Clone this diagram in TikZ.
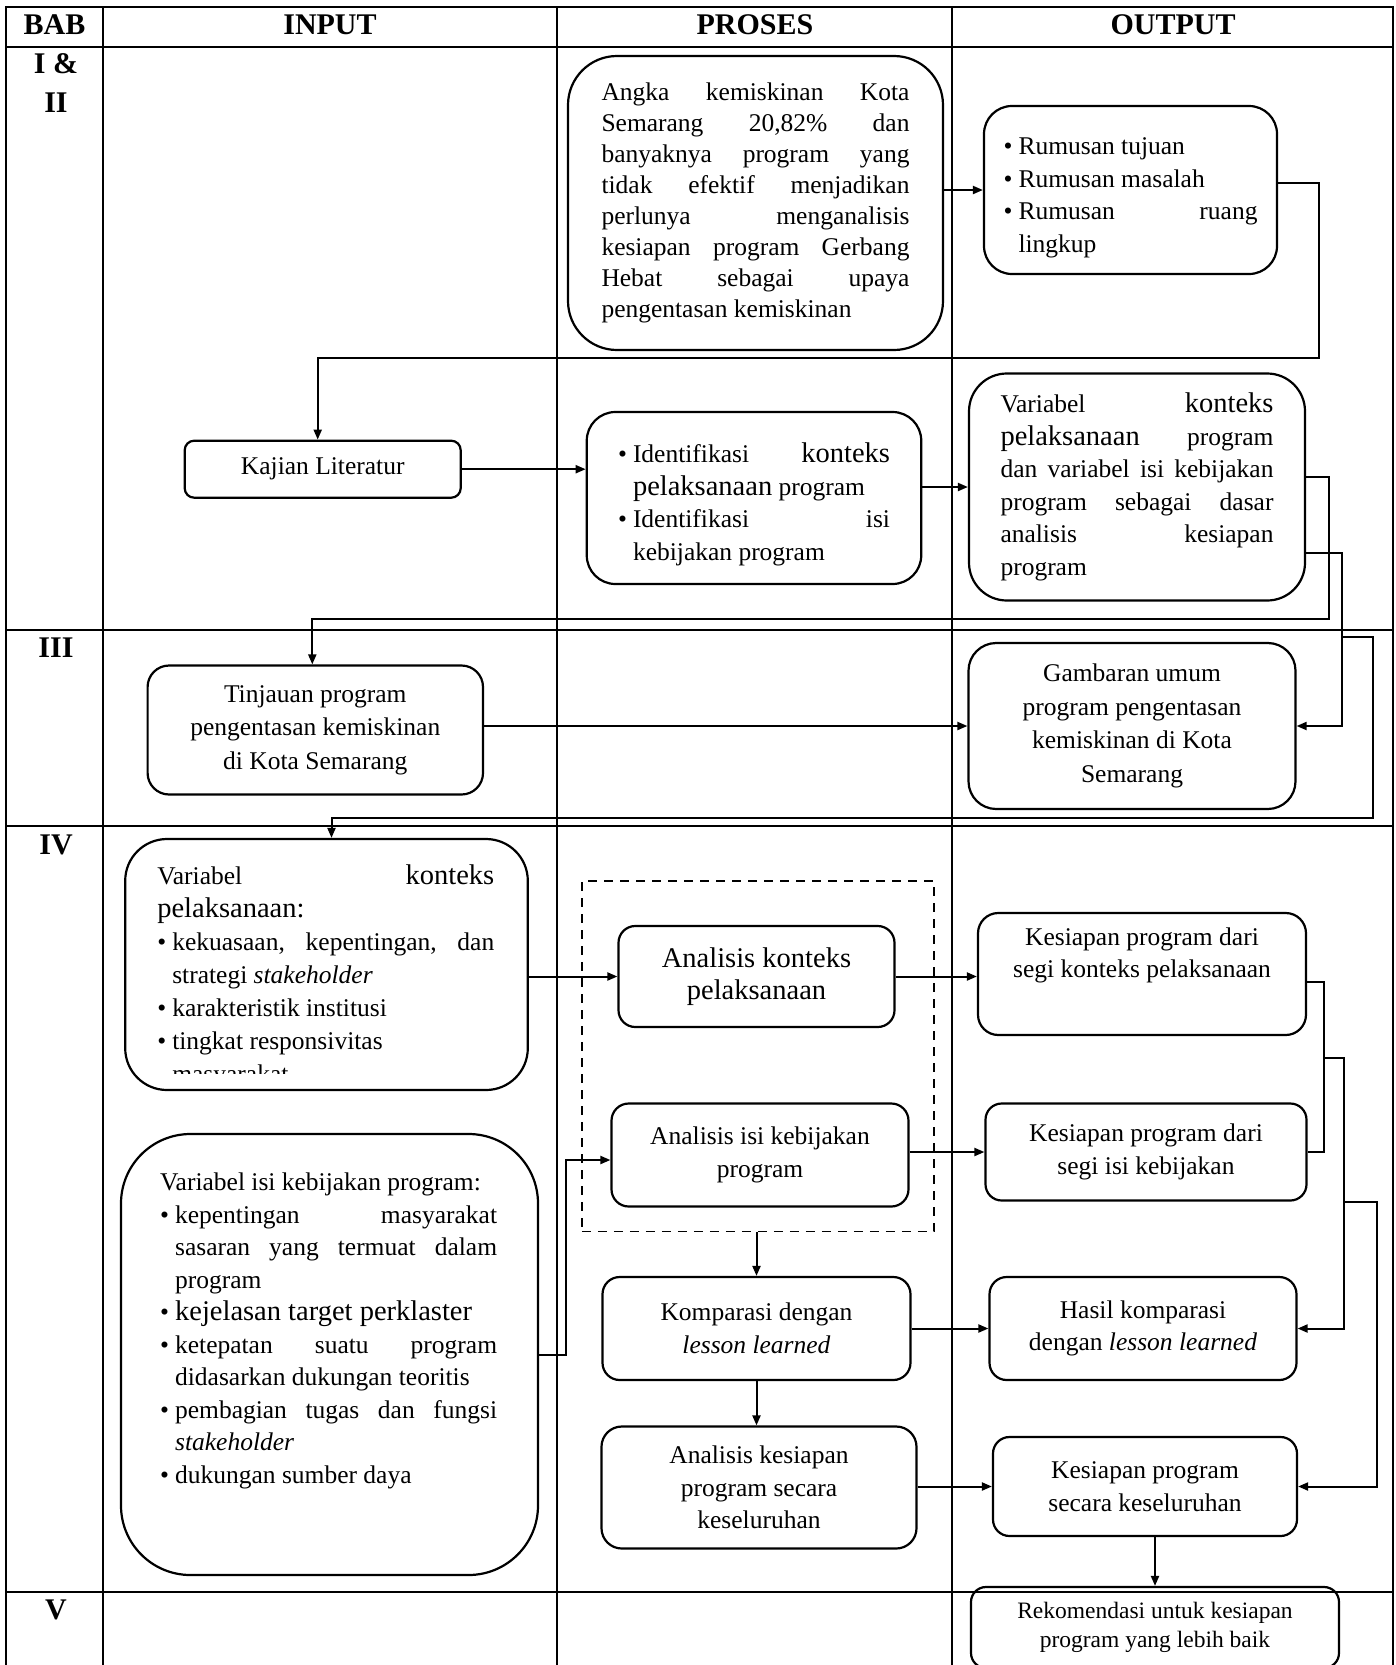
\documentclass[tikz,border=0pt]{standalone}
\usepackage{fontspec}
\setmainfont{Liberation Serif}
\usetikzlibrary{arrows.meta,calc,positioning}

\tolerance=10000
\hbadness=10000
\hfuzz=3pt

\newcommand{\body}{\fontsize{25.5}{32.5}\selectfont}
\newcommand{\bg}{\fontsize{28.5}{32.5}\selectfont}
\newcommand{\bul}{\par\hangindent=15pt\hangafter=1\noindent\makebox[15pt][l]{\textbullet}}

\begin{document}
\begin{tikzpicture}[x=1pt,y=-1pt,
  tl/.style={line width=2pt},
  tlthin/.style={line width=1.2pt},
  hd/.style={font=\fontsize{30}{39}\selectfont\bfseries,align=center,inner sep=0pt},
  box/.style={draw,fill=white,line width=2.2pt,align=center,font=\body,inner sep=4pt},
  txt/.style={align=justify,font=\body,inner sep=0pt},
  grpbox/.style={draw,line width=1.4pt,dash pattern=on 9pt off 7pt},
  ln/.style={line width=2pt},
  f/.style={-{Triangle[length=10pt,width=8pt]},line width=2pt}]
\path[use as bounding box,fill=white] (0,0) rectangle (1396,1665);

% table
\draw[tl] (6,1680) -- (6,7) -- (1393,7) -- (1393,1680);
\foreach \yy in {46.7,629.5,826,1592.4}
  \draw[tl] (6,\yy) -- (1393,\yy);
\foreach \xx in {103,557}
  \draw[tl] (\xx,7) -- (\xx,1680);
\draw[tlthin] (952,7) -- (952,1680);

\node[hd] (hbab) at (54.5,25) {BAB};
\node[hd] (hinput) at (330,25) {INPUT};
\node[hd] (hproses) at (755,25) {PROSES};
\node[hd] (houtput) at (1173,25) {OUTPUT};
\node[hd] (rI) at (56,83.4) {I \&\\II};
\node[hd] (rIII) at (56,648) {III};
\node[hd] (rIV) at (56,845) {IV};
\node[hd] (rV) at (56,1610) {V};

% bab I & II
\node[box,rounded corners=49pt,minimum width=375pt,minimum height=294pt,
  align=justify,text width=308pt,font=\fontsize{25.5}{31}\selectfont] (angka) at (755.5,203)
  {Angka kemiskinan Kota\linebreak Semarang 20,82\% dan\linebreak banyaknya program yang\linebreak tidak efektif menjadikan\linebreak perlunya menganalisis\linebreak kesiapan program Gerbang\linebreak Hebat sebagai upaya\linebreak pengentasan kemiskinan};
\node[box,rounded corners=28pt,minimum width=293pt,minimum height=168pt,
  align=justify,text width=254pt] (rumusan) at (1130.5,190)
  {\bul Rumusan tujuan\bul Rumusan masalah\bul Rumusan ruang\linebreak lingkup\par};
\node[box,rounded corners=9.5pt,minimum width=276pt,minimum height=57pt] (kajian) at (322.7,469.2) {Kajian Literatur};
\node[box,rounded corners=28.7pt,minimum width=334.5pt,minimum height=172pt,
  align=justify,text width=272pt] (ident) at (754,498)
  {\bul Identifikasi {\bg konteks}\linebreak {\bg pelaksanaan} program\bul Identifikasi isi\linebreak kebijakan program\par};
\node[box,rounded corners=37.8pt,minimum width=336pt,minimum height=227pt,
  align=justify,text width=273pt] (ctxdesc) at (1137,487)
  {Variabel {\bg konteks}\linebreak {\bg pelaksanaan} program\linebreak dan variabel isi kebijakan\linebreak program sebagai dasar\linebreak analisis kesiapan\linebreak program};

% bab III
\node[box,rounded corners=21.5pt,minimum width=335.4pt,minimum height=129pt,
  font=\fontsize{25.5}{33.5}\selectfont] (tinjau) at (315.3,730)
  {Tinjauan program\\pengentasan kemiskinan\\di Kota Semarang};
\node[box,rounded corners=27.7pt,minimum width=327pt,minimum height=166pt,
  font=\fontsize{25.5}{33.5}\selectfont] (gambar) at (1132,726)
  {Gambaran umum\\program pengentasan\\kemiskinan di Kota\\Semarang};

% bab IV
\node[box,rounded corners=41.8pt,minimum width=402.6pt,minimum height=251pt] (ctxvar) at (326.5,964.5) {};
\begin{scope}
\clip (ctxvar.north west) rectangle ($(ctxvar.south east)+(0,-18)$);
\node[txt,text width=337pt,anchor=north west,font=\fontsize{25.5}{33}\selectfont] (ctxvar-t)
  at ($(ctxvar.north west)+(33,27)$)
  {Variabel {\bg konteks}\linebreak {\bg pelaksanaan:}\bul kekuasaan, kepentingan, dan\linebreak strategi \textit{stakeholder}\bul karakteristik institusi\bul tingkat responsivitas\newline masyarakat\par};
\end{scope}
\node[box,rounded corners=69.5pt,minimum width=417pt,minimum height=441pt] (isivar) at (329.5,1354.5) {};
\node[txt,text width=337pt,anchor=north west] (isivar-t) at ($(isivar.north west)+(40,40)$)
  {Variabel isi kebijakan program:\bul kepentingan masyarakat\linebreak sasaran yang termuat dalam\linebreak program\bul {\bg kejelasan target perklaster}\bul ketepatan suatu program\linebreak didasarkan dukungan teoritis\bul pembagian tugas dan fungsi\linebreak \textit{stakeholder}\bul dukungan sumber daya\par};

\node[grpbox,minimum width=352.2pt,minimum height=350.5pt] (grp) at (757.9,1056.25) {};
\node[box,rounded corners=16.8pt,minimum width=276pt,minimum height=101pt,font=\bg] (ankon) at (756.5,976.5)
  {Analisis konteks\\pelaksanaan};
\node[box,rounded corners=17.2pt,minimum width=297pt,minimum height=103pt] (anisi) at (760,1155)
  {Analisis isi kebijakan\\program};
\node[box,rounded corners=17.2pt,minimum width=308pt,minimum height=103pt] (kompar) at (756.5,1328.5)
  {Komparasi dengan\\\textit{lesson learned}};
\node[box,rounded corners=20.3pt,minimum width=315pt,minimum height=122pt] (ankes) at (759,1487.5)
  {Analisis kesiapan\\program secara\\keseluruhan};
\node[box,rounded corners=20.3pt,minimum width=328pt,minimum height=122pt] (kskon) at (1142,974)
  {Kesiapan program dari\\segi konteks pelaksanaan\\\strut};
\node[box,rounded corners=16.2pt,minimum width=321pt,minimum height=97pt] (ksisi) at (1146,1152)
  {Kesiapan program dari\\segi isi kebijakan};
\node[box,rounded corners=17.2pt,minimum width=307pt,minimum height=103pt] (hasil) at (1143,1328.5)
  {Hasil komparasi\\dengan \textit{lesson learned}};
\node[box,rounded corners=16.5pt,minimum width=304pt,minimum height=99pt] (kskes) at (1145,1486.5)
  {Kesiapan program\\secara keseluruhan};

% bab V
\node[box,fill=none,rounded corners=15pt,minimum width=368pt,minimum height=81pt,
  font=\fontsize{23.5}{28.5}\selectfont] (rekom) at (1155,1627.5)
  {Rekomendasi untuk kesiapan\\program yang lebih baik};

% connectors
\draw[f] (angka.east |- rumusan.west) -- (rumusan.west);
\draw[f] ($(rumusan.east)+(0,-7)$) -- ++(41,0) |- ($(kajian.north)+(-5,-82)$) -- ($(kajian.north)+(-5,0)$);
\draw[f] (kajian.east) -- (ident.west |- kajian.east);
\draw[f] (ident.east |- ctxdesc.west) -- (ctxdesc.west);
\draw[f] ($(ctxdesc.east)+(0,-10)$) -- ++(23,0) |- ($(tinjau.north)+(-3,-45)$) -- ($(tinjau.north)+(-3,0)$);
\draw[f] ($(ctxdesc.east)+(0,66)$) -- ++(36,0) |- (gambar.east);
\coordinate (jA) at ($(ctxdesc.east)+(36,150)$);
\draw[f] (jA) -- ++(31,0) |- ($(ctxvar.north)+(5,-20)$) -- ($(ctxvar.north)+(5,0)$);
\draw[f] (tinjau.east |- gambar.west) -- (gambar.west);
\draw[f] (ctxvar.east |- ankon.west) -- (ankon.west);
\draw[f] (isivar.east) -- ++(27,0) |- ($(anisi.west)+(0,5)$);
\draw[f] (ankon.east) -- (kskon.west |- ankon.east);
\draw[f] (anisi.east |- ksisi.west) -- (ksisi.west);
\draw[f] (grp.south -| kompar.north) -- (kompar.north);
\draw[f] (kompar.east) -- (hasil.west |- kompar.east);
\draw[f] (kompar.south) -- (kompar.south |- ankes.north);
\draw[f] (ankes.east |- kskes.west) -- (kskes.west);
\draw[f] (rekom.north |- kskes.south) -- (rekom.north);
\draw[ln] ($(kskon.east)+(0,8)$) -- ++(17,0) |- (ksisi.east);
\coordinate (jB) at ($(kskon.east)+(17,84)$);
\draw[f] (jB) -- ++(20,0) |- (hasil.east);
\coordinate (jC) at ($(jB)+(20,144)$);
\draw[f] (jC) -- ++(33,0) |- (kskes.east);
\end{tikzpicture}
\end{document}
